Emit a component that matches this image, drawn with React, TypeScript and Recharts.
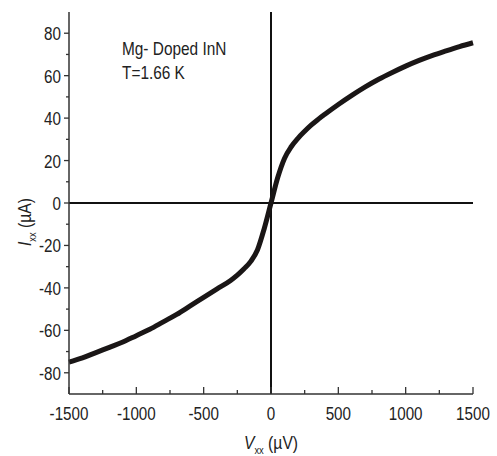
import React from 'react';
import { LineChart, Line, XAxis, YAxis, ReferenceLine } from 'recharts';

const voltage = [-1500, -1400, -1300, -1200, -1100, -1000, -900, -800, -700, -600, -500, -400, -300, -250, -200, -150, -100, -50, 0, 50, 100, 150, 200, 250, 300, 350, 400, 500, 600, 700, 800, 900, 1000, 1100, 1200, 1300, 1400, 1500];
const current = [-75, -73, -70.5, -68, -65.5, -62.5, -59.5, -56, -52.5, -48.5, -44.5, -40.5, -36.5, -34, -31, -27.5, -22, -12, 0, 12, 21, 26.5, 30.5, 33.8, 36.8, 39.4, 41.8, 46.4, 50.7, 54.7, 58.3, 61.5, 64.5, 67.2, 69.6, 71.7, 73.7, 75.5];
const xTicks = [-1500, -1250, -1000, -750, -500, -250, 0, 250, 500, 750, 1000, 1250, 1500];
const yTicks = [-80, -70, -60, -50, -40, -30, -20, -10, 0, 10, 20, 30, 40, 50, 60, 70, 80];
const annotation = ['Mg- Doped InN', 'T=1.66 K'];

const data = voltage.map((v, i) => ({ v, i: current[i] }));

const FONT = '"Liberation Sans", Arial, sans-serif';
const TXT = '#222';
const FRAME = '#333';
const SX = 0.8;

const BottomTick = (p: any) => {
  const val = p.payload.value;
  const major = val % 500 === 0;
  return (
    <g>
      <line x1={p.x} x2={p.x} y1={p.y} y2={p.y - (major ? 7 : 4)} stroke={FRAME} strokeWidth={1.3} />
      {major && (
        <text transform={`translate(${p.x} ${p.y + 26}) scale(${SX} 1)`} textAnchor="middle" fontFamily={FONT} fontSize={19} fill={TXT}>
          {val}
        </text>
      )}
    </g>
  );
};

const TopTick = (p: any) => (
  <line x1={p.x} x2={p.x} y1={p.y} y2={p.y + 3} stroke={FRAME} strokeWidth={1} />
);

const LeftTick = (p: any) => {
  const val = p.payload.value;
  const major = val % 20 === 0;
  return (
    <g>
      <line x1={p.x} x2={p.x - (major ? 5 : 3)} y1={p.y} y2={p.y} stroke={FRAME} strokeWidth={1.3} />
      {major && (
        <text transform={`translate(${p.x - 8} ${p.y + 7}) scale(${SX} 1)`} textAnchor="end" fontFamily={FONT} fontSize={19} fill={TXT}>
          {val}
        </text>
      )}
    </g>
  );
};

const RightTick = (p: any) => (
  <line x1={p.x} x2={p.x - 3} y1={p.y} y2={p.y} stroke={FRAME} strokeWidth={1} />
);

export default function App() {
  return (
    <div style={{ position: 'absolute', left: 0, top: 0, width: 497, height: 456, background: '#fff' }}>
      <LineChart width={497} height={456} data={data} margin={{ top: 12, right: 24, bottom: 0, left: 0 }}>
        <XAxis
          xAxisId="b"
          dataKey="v"
          type="number"
          domain={[-1500, 1500]}
          ticks={xTicks}
          interval={0}
          height={62}
          tickSize={0}
          tickMargin={0}
          tickLine={false}
          tick={BottomTick}
          axisLine={{ stroke: FRAME, strokeWidth: 1.5 }}
        />
        <XAxis
          xAxisId="t"
          orientation="top"
          dataKey="v"
          type="number"
          domain={[-1500, 1500]}
          ticks={xTicks}
          interval={0}
          height={0}
          tickSize={0}
          tickMargin={0}
          tickLine={false}
          tick={TopTick}
          axisLine={{ stroke: FRAME, strokeWidth: 1.5 }}
        />
        <YAxis
          yAxisId="l"
          type="number"
          domain={[-90, 90]}
          ticks={yTicks}
          interval={0}
          width={69}
          tickSize={0}
          tickMargin={0}
          tickLine={false}
          tick={LeftTick}
          axisLine={{ stroke: FRAME, strokeWidth: 1.5 }}
        />
        <YAxis
          yAxisId="r"
          orientation="right"
          type="number"
          domain={[-90, 90]}
          ticks={yTicks}
          interval={0}
          width={0}
          tickSize={0}
          tickMargin={0}
          tickLine={false}
          tick={RightTick}
          axisLine={{ stroke: FRAME, strokeWidth: 1.5 }}
        />
        <ReferenceLine xAxisId="b" yAxisId="l" x={0} stroke="#111" strokeWidth={2} />
        <ReferenceLine xAxisId="b" yAxisId="l" y={0} stroke="#111" strokeWidth={2} />
        <Line
          xAxisId="b"
          yAxisId="l"
          dataKey="i"
          type="monotone"
          stroke="#1a1616"
          strokeWidth={5}
          dot={false}
          isAnimationActive={false}
        />
        <text transform="translate(122 55) scale(0.88 1)" fontFamily={FONT} fontSize={17.5} fill={TXT}>{annotation[0]}</text>
        <text transform="translate(122 79) scale(0.88 1)" fontFamily={FONT} fontSize={17.5} fill={TXT}>{annotation[1]}</text>
        <text transform="translate(271 449) scale(0.85 1)" textAnchor="middle" fontFamily={FONT} fontSize={18.5} fill={TXT}>
          <tspan fontStyle="italic">V</tspan>
          <tspan fontSize={11} dy={5}>xx</tspan>
          <tspan dy={-5}> (µV)</tspan>
        </text>
        <text transform="translate(31 222) rotate(-90) scale(0.85 1)" textAnchor="middle" fontFamily={FONT} fontSize={18.5} fill={TXT}>
          <tspan fontStyle="italic">I</tspan>
          <tspan fontSize={11} dy={5}>xx</tspan>
          <tspan dy={-5}> (µA)</tspan>
        </text>
      </LineChart>
    </div>
  );
}
